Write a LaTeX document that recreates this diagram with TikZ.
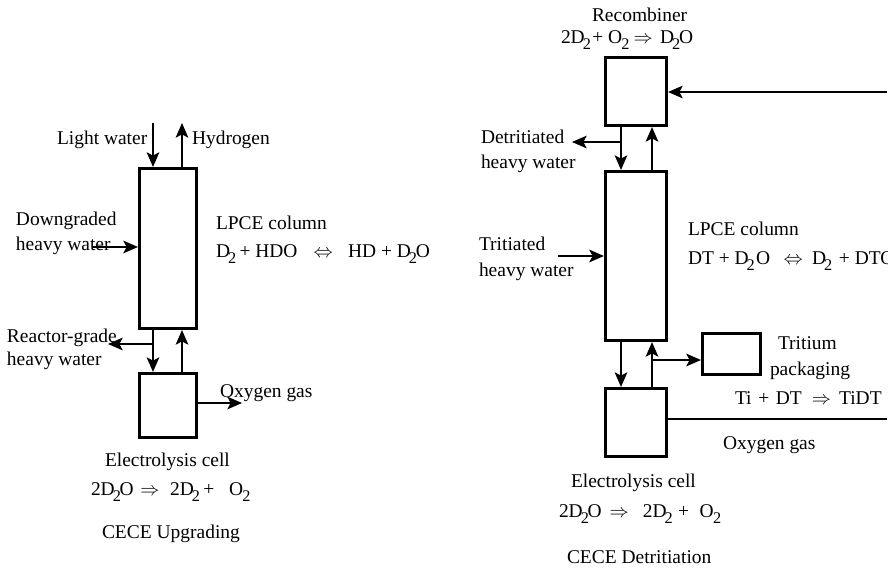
\documentclass[tikz,border=0pt]{standalone}
\usepackage{fontspec}
\setmainfont{Liberation Serif}
\usetikzlibrary{arrows.meta}
\newcommand{\lowtwo}{\kern-1.5pt\raisebox{-4.9pt}{\fontsize{12.2}{12}\selectfont 2}\kern-1pt}
\newcommand{\gap}[1]{\hspace{#1pt}}
\tikzset{
  unitbox/.style 2 args={draw,line width=2.3pt,minimum width=#1*0.75pt,minimum height=#2*0.75pt,inner sep=0pt},
  flow/.style={->,line width=1.1pt},
  flowline/.style={line width=1.1pt},
  tag/.style={anchor=base west,inner sep=0pt,outer sep=0pt,font=\fontsize{14.6}{16}\selectfont}
}
\begin{document}
\begin{tikzpicture}[x=0.75pt,y=-0.75pt,>={Stealth[length=11pt,width=9.5pt,inset=2.5pt]}]
  \useasboundingbox (0,0) rectangle (893,568);
  % ---------- left panel : CECE upgrading -------------------
  \begin{scope}
    \node[unitbox={57}{160}] (lpceA) at (168,248.5) {};
    \node[unitbox={57}{64}] (cellA) at (168,405.5) {};
    \coordinate (lightA) at (153,123);
    \coordinate (hydroA) at (182,123);
    \coordinate (downA) at (93,247);
    \coordinate (reactA) at (108,344);
    \coordinate (oxyA) at (242,403);
    \coordinate (teeA) at (153,344);
    \draw[flow] (lightA) -- (lightA |- lpceA.north);
    \draw[flow] (hydroA |- lpceA.north) -- (hydroA);
    \draw[flow] (downA) -- (downA -| lpceA.west);
    \draw[flow] (lightA |- lpceA.south) -- (lightA |- cellA.north);
    \draw[flow] (hydroA |- cellA.north) -- (hydroA |- lpceA.south);
    \draw[flow] (teeA) -- (reactA);
    \draw[flow] (oxyA -| cellA.east) -- (oxyA);
    \node[tag] (lightAtxt) at (57,144) {Light water};
    \node[tag] (hydroAtxt) at (192,144) {Hydrogen};
    \node[tag] (downAtxt) at (16,225) {Downgraded};
    \node[tag] (downBtxt) at (16,250) {heavy water};
    \node[tag] (lpceAtxt) at (216,229) {LPCE column};
    \node[tag] (lpceAeq) at (216,257) {D\lowtwo\gap{3.5}+ HDO\gap{12}$\Leftrightarrow$\gap{11.5}HD + D\lowtwo O};
    \node[tag] (reactAtxt) at (7,342) {Reactor-grade};
    \node[tag] (reactBtxt) at (7,365) {heavy water};
    \node[tag] (oxyAtxt) at (220,397) {Oxygen gas};
    \node[tag] (cellAtxt) at (105,466) {Electrolysis cell};
    \node[tag] (cellAeq) at (91,495) {2D\lowtwo O\gap{5}$\Rightarrow$\gap{8}2D\lowtwo\gap{3.5}+\gap{11}O\kern1pt\lowtwo};
    \node[tag] (titleA) at (102,538) {CECE Upgrading};
  \end{scope}
  % ---------- right panel : CECE detritiation -----------------------
  \begin{scope}
    \clip (0,0) rectangle (887,568);
    \node[unitbox={61}{68}] (recomb) at (636,91.5) {};
    \node[unitbox={61}{169}] (lpceB) at (636,256) {};
    \node[unitbox={61}{68}] (cellB) at (636,422.5) {};
    \node[unitbox={58}{41}] (packB) at (731.5,354) {};
    \coordinate (feedB) at (887,92);
    \coordinate (downB) at (621,142);
    \coordinate (upB) at (652,360);
    \coordinate (detB) at (572,142);
    \coordinate (tritB) at (558,256);
    \coordinate (oxyB) at (887,419);
    \draw[flow] (feedB) -- (feedB -| recomb.east);
    \draw[flow] (downB |- recomb.south) -- (downB |- lpceB.north);
    \draw[flow] (upB |- lpceB.north) -- (upB |- recomb.south);
    \draw[flow] (downB) -- (detB);
    \draw[flow] (tritB) -- (tritB -| lpceB.west);
    \draw[flow] (downB |- lpceB.south) -- (downB |- cellB.north);
    \draw[flow] (upB |- cellB.north) -- (upB |- lpceB.south);
    \draw[flow] (upB) -- (upB -| packB.west);
    \draw[flowline] (oxyB -| cellB.east) -- (oxyB);
    \node[tag] (recombtxt) at (592,21) {Recombiner};
    \node[tag] (recombeq) at (561,43) {2D\lowtwo\gap{2}+ O\kern1pt\lowtwo\gap{4}$\Rightarrow$\gap{5.5}D\lowtwo O};
    \node[tag] (dettxt) at (481,143) {Detritiated};
    \node[tag] (detBtxt) at (481,168) {heavy water};
    \node[tag] (trittxt) at (479,250) {Tritiated};
    \node[tag] (tritBtxt) at (479,276) {heavy water};
    \node[tag] (lpceBtxt) at (688,235) {LPCE column};
    \node[tag] (lpceBeq) at (688,264) {DT + D\lowtwo\kern2pt O\gap{10}$\Leftrightarrow$\gap{7}D\lowtwo\gap{6}+ DTO};
    \node[tag] (packtxt) at (778,349) {Tritium};
    \node[tag] (packBtxt) at (770,375) {packaging};
    \node[tag] (packeq) at (735,404) {Ti\gap{5}+\gap{5}DT\gap{7.5}$\Rightarrow$\gap{6}TiDT};
    \node[tag] (oxyBtxt) at (723,449) {Oxygen gas};
    \node[tag] (cellBtxt) at (571,487) {Electrolysis cell};
    \node[tag] (cellBeq) at (559,517) {2D\lowtwo O\gap{6}$\Rightarrow$\gap{10.5}2D\lowtwo\gap{5}+\gap{8}O\kern1pt\lowtwo};
    \node[tag] (titleB) at (567,563) {CECE Detritiation};
  \end{scope}
\end{tikzpicture}
\end{document}
